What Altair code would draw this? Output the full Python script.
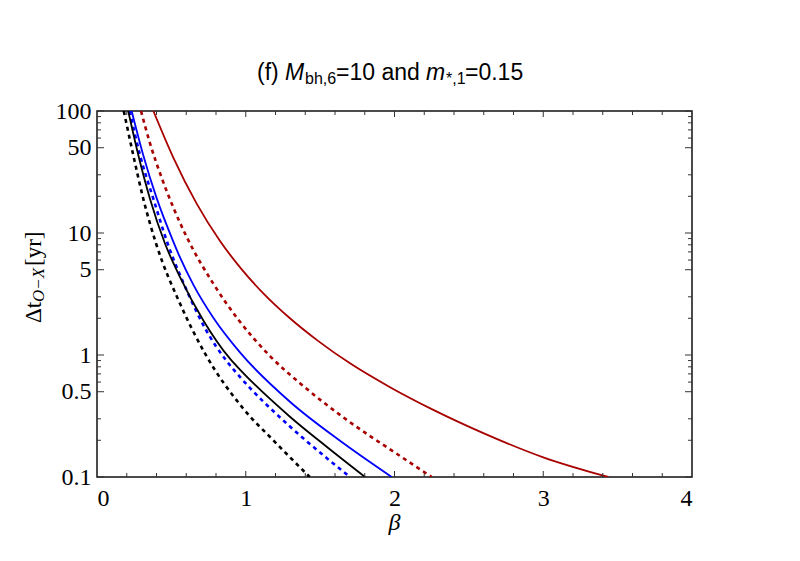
import altair as alt
import pandas as pd

# ---- curve data (beta, Delta t [yr]) ----
beta_red_solid = [0.379, 0.513, 0.670, 0.827, 0.97, 1.118, 1.297, 1.488, 1.701, 1.97, 2.261, 2.597, 3.0, 3.437]
t_red_solid = [100, 41.5, 17.4, 8.6, 5.08, 3.2, 2.0, 1.30, 0.855, 0.545, 0.355, 0.229, 0.145, 0.1]

beta_red_dash = [0.296, 0.356, 0.435, 0.513, 0.60, 0.782, 0.950, 1.163, 1.387, 1.679, 2.015, 2.25]
t_red_dash = [100, 54.5, 28.3, 16.2, 9.44, 3.84, 1.95, 0.98, 0.557, 0.294, 0.155, 0.1]

beta_blue_solid = [0.233, 0.311, 0.401, 0.513, 0.558, 0.65, 0.782, 0.961, 1.297, 1.634, 1.981]
t_blue_solid = [100, 43.4, 19.3, 8.5, 6.3, 3.72, 2.02, 1.05, 0.414, 0.198, 0.1]

beta_blue_dash = [0.22, 0.289, 0.379, 0.479, 0.603, 0.726, 0.872, 0.961, 1.274, 1.521, 1.701]
t_blue_dash = [100, 43.6, 19.05, 7.94, 3.39, 1.66, 0.891, 0.661, 0.275, 0.151, 0.1]

beta_black_solid = [0.21, 0.278, 0.356, 0.457, 0.558, 0.715, 0.894, 0.961, 1.297, 1.544, 1.802]
t_black_solid = [100, 43.4, 19.1, 8.2, 4.35, 1.92, 0.933, 0.76, 0.312, 0.177, 0.1]

beta_black_dash = [0.18, 0.244, 0.311, 0.397, 0.558, 0.726, 0.983, 1.185, 1.43]
t_black_dash = [100, 43.4, 19.1, 8.2, 2.64, 1.03, 0.364, 0.2, 0.1]

# ---- tick values ----
x_tick_labels = [0, 1, 2, 3, 4]
x_major_ticks = [1, 2, 3]
x_minor_ticks = [0.2, 0.4, 0.6, 0.8, 1.2, 1.4, 1.6, 1.8, 2.2, 2.4, 2.6, 2.8, 3.2, 3.4, 3.6, 3.8]
y_tick_labels = [0.1, 0.5, 1, 5, 10, 50, 100]
y_minor_ticks = [0.2, 0.3, 0.6, 0.7, 0.8, 0.9, 2, 3, 6, 7, 8, 9, 20, 30, 60, 70, 80, 90]

W, H = 595, 366
SERIF = "Liberation Serif"
SANS = "Liberation Sans"

x_scale = alt.Scale(domain=[0, 4], nice=False, zero=False)
y_scale = alt.Scale(type="log", domain=[0.1, 100], nice=False)

x_axis = alt.Axis(values=x_tick_labels, format="d", title=None, labelPadding=9,
                  ticks=False, tickSize=0, domain=False, grid=False,
                  labelFont=SERIF, labelFontSize=24, labelColor="black")
y_axis = alt.Axis(values=y_tick_labels, format="~g", title=None, labelPadding=6,
                  ticks=False, tickSize=0, domain=False, grid=False,
                  labelFont=SERIF, labelFontSize=24, labelColor="black",
                  labelOverlap=False)


def curve(betas, ts, color, dash=None, width=1.8):
    df = pd.DataFrame({"beta": betas, "t": ts})
    kw = dict(color=color, strokeWidth=width, clip=True, interpolate="monotone")
    if dash:
        kw["strokeDash"] = dash
    return alt.Chart(df).mark_line(**kw).encode(
        x=alt.X("beta:Q", scale=x_scale, axis=x_axis),
        y=alt.Y("t:Q", scale=y_scale, axis=y_axis),
    )


RED = "#A80000"
BLUE = "#0000FF"
BLACK = "#000000"
DASH = [4, 4]

lines = [
    curve(beta_red_solid, t_red_solid, RED),
    curve(beta_red_dash, t_red_dash, RED, DASH, 2.6),
    curve(beta_blue_solid, t_blue_solid, BLUE),
    curve(beta_blue_dash, t_blue_dash, BLUE, DASH, 2.6),
    curve(beta_black_solid, t_black_solid, BLACK),
    curve(beta_black_dash, t_black_dash, BLACK, DASH, 2.6),
]

TICK = "#333333"


def xticks(vals, length):
    df = pd.DataFrame({"v": vals})
    base = alt.Chart(df).mark_rule(color=TICK, strokeWidth=1)
    bottom = base.encode(x=alt.X("v:Q", scale=x_scale, axis=x_axis),
                         y=alt.value(H), y2=alt.value(H - length))
    top = base.encode(x=alt.X("v:Q", scale=x_scale, axis=x_axis),
                      y=alt.value(0), y2=alt.value(length))
    return [bottom, top]


def yticks(vals, length):
    df = pd.DataFrame({"v": vals})
    base = alt.Chart(df).mark_rule(color=TICK, strokeWidth=1)
    left = base.encode(y=alt.Y("v:Q", scale=y_scale, axis=y_axis),
                       x=alt.value(0), x2=alt.value(length))
    right = base.encode(y=alt.Y("v:Q", scale=y_scale, axis=y_axis),
                        x=alt.value(W), x2=alt.value(W - length))
    return [left, right]


ticks = (xticks(x_major_ticks, 6) + xticks(x_minor_ticks, 4)
         + yticks(y_tick_labels, 7) + yticks(y_minor_ticks, 4))


def label(txt, x, y, size, font, style="normal", angle=0):
    df = pd.DataFrame({"s": [txt]})
    return alt.Chart(df).mark_text(
        align="left", baseline="alphabetic", font=font, fontSize=size,
        fontStyle=style, angle=angle, color="black"
    ).encode(text="s:N", x=alt.value(x), y=alt.value(y))


TB = -31   # title baseline
SB = -27   # subscript baseline
texts = [
    # title: (f) M_bh,6=10 and m_*,1=0.15
    label("(f)", 160, TB, 23, SANS),
    label("M", 188, TB, 23, SANS, "italic"),
    label("bh,6", 208, SB, 16, SANS),
    label("=10 and", 239, TB, 23, SANS),
    label("m", 329, TB, 23, SANS, "italic"),
    label("*,1", 349, SB, 16, SANS),
    label("=0.15", 368, TB, 23, SANS),
    # y title: Delta t_{O-X} [yr]
    label("Δt", -56, 212, 23, SERIF, angle=270),
    label("O−X", -53, 191, 17, SERIF, "italic", angle=270),
    label("[yr]", -56, 155, 23, SERIF, angle=270),
    # x title
    alt.Chart(pd.DataFrame({"s": ["β"]})).mark_text(
        align="center", baseline="alphabetic", font=SERIF, fontSize=24,
        fontStyle="italic", color="black"
    ).encode(text="s:N", x=alt.value(W / 2), y=alt.value(H + 53)),
]

chart = alt.layer(*lines, *ticks, *texts).properties(
    width=W, height=H,
    autosize=alt.AutoSizeParams(type="none"),
    padding={"left": 89, "top": 103, "right": 100, "bottom": 76},
    background="white",
).configure_view(stroke="#111111", strokeWidth=1.5)

chart.save("out.html", embed_options={"renderer": "svg", "actions": False})
